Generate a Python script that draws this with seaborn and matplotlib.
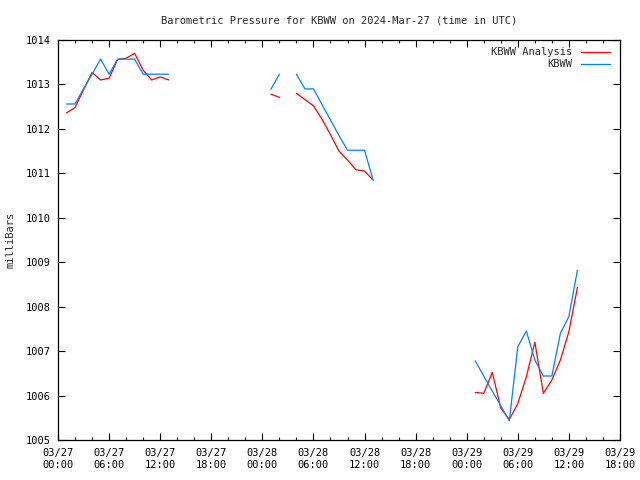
import numpy as np
import pandas as pd
import matplotlib
matplotlib.use("Agg")
import matplotlib.pyplot as plt
import matplotlib.dates as mdates
from matplotlib.lines import Line2D
import seaborn as sns

# Hours after 2024-03-27 00:00 UTC (NaN = missing observation)
hours = [1, 2, 3, 4, 5, 6, 7, 8, 9, 10, 11, 12, 13,
         25, 26, 27, 28, 29, 30, 31, 32, 33, 34, 35, 36, 37,
         49, 50, 51, 52, 53, 54, 55, 56, 57, 58, 59, 60, 61]

kbww = [1012.56, 1012.56, 1012.90, 1013.23, 1013.57, 1013.23, 1013.57, 1013.57, 1013.57,
        1013.23, 1013.23, 1013.23, 1013.23,
        1012.89, 1013.23, np.nan, 1013.23, 1012.90, 1012.90, 1012.55, 1012.20, 1011.85,
        1011.52, 1011.52, 1011.52, 1010.85,
        1006.78, 1006.44, 1006.10, 1005.77, 1005.43, 1007.10, 1007.45, 1006.80, 1006.44,
        1006.44, 1007.40, 1007.78, 1008.82]

analysis = [1012.36, 1012.48, 1012.88, 1013.27, 1013.10, 1013.14, 1013.56, 1013.59, 1013.70,
            1013.32, 1013.10, 1013.17, 1013.10,
            1012.78, 1012.71, np.nan, 1012.80, 1012.66, 1012.52, 1012.22, 1011.87, 1011.50,
            1011.30, 1011.08, 1011.05, 1010.85,
            1006.07, 1006.05, 1006.52, 1005.72, 1005.46, 1005.82, 1006.42, 1007.20, 1006.05,
            1006.35, 1006.80, 1007.44, 1008.43]

series_names = ["KBWW Analysis", "KBWW"]
colors = ["#ff0000", "#0080ff"]
yticks = [1005, 1006, 1007, 1008, 1009, 1010, 1011, 1012, 1013, 1014]

start = pd.Timestamp("2024-03-27 00:00")
end = pd.Timestamp("2024-03-29 18:00")

frames = []
for name, vals in zip(series_names, [analysis, kbww]):
    d = pd.DataFrame({"h": hours, "p": vals}).dropna()
    # break the line wherever consecutive observations are more than 1 h apart
    d["seg"] = (d["h"].diff() > 1.5).cumsum()
    d["time"] = start + pd.to_timedelta(d["h"], unit="h")
    d["series"] = name
    d["unit"] = name + "_" + d["seg"].astype(str)
    frames.append(d)
df = pd.concat(frames, ignore_index=True)

sns.set_style("ticks")
plt.rcParams["font.family"] = ["DejaVu Sans Mono"]
plt.rcParams["font.size"] = 7.5

fig = plt.figure(figsize=(6.4, 4.8), dpi=100)
ax = fig.add_axes([58 / 640, 40 / 480, 562 / 640, 400 / 480])

sns.lineplot(data=df, x="time", y="p", hue="series", hue_order=series_names,
             palette=colors, units="unit", estimator=None, linewidth=0.9, ax=ax,
             legend=False, sort=False)

ax.set_xlim(start, end)
ax.set_ylim(1005, 1014)
ax.set_yticks(yticks)
ax.set_yticklabels([str(t) for t in yticks])

ax.xaxis.set_major_locator(mdates.HourLocator(byhour=[0, 6, 12, 18]))
ax.xaxis.set_minor_locator(mdates.HourLocator(interval=2))
ax.xaxis.set_major_formatter(mdates.DateFormatter("%m/%d\n%H:%M"))

ax.tick_params(axis="both", which="major", direction="in", length=5, width=0.8,
               top=True, right=True, labelsize=7.5, colors="black")
ax.tick_params(axis="x", which="minor", direction="in", length=2.5, width=0.8,
               top=True, bottom=True)
ax.tick_params(axis="x", which="major", pad=6)
ax.tick_params(axis="y", which="major", pad=5)
for s in ax.spines.values():
    s.set_visible(True)
    s.set_color("black")
    s.set_linewidth(0.9)

ax.set_xlabel("")
ax.set_ylabel("milliBars", fontsize=7.5)
ax.yaxis.set_label_coords(-0.076, 0.5)

ax.set_title("Barometric Pressure for KBWW on 2024-Mar-27 (time in UTC)",
             fontsize=7.5, pad=12)

handles = [Line2D([], [], color=c, lw=0.9) for c in colors]
ax.legend(handles, series_names, loc="upper right", bbox_to_anchor=(0.9915, 0.995),
          frameon=False, markerfirst=False, handlelength=2.8, handletextpad=0.8,
          labelspacing=0.2, borderpad=0, fontsize=7.5)

fig.savefig("out.png", dpi=100)
